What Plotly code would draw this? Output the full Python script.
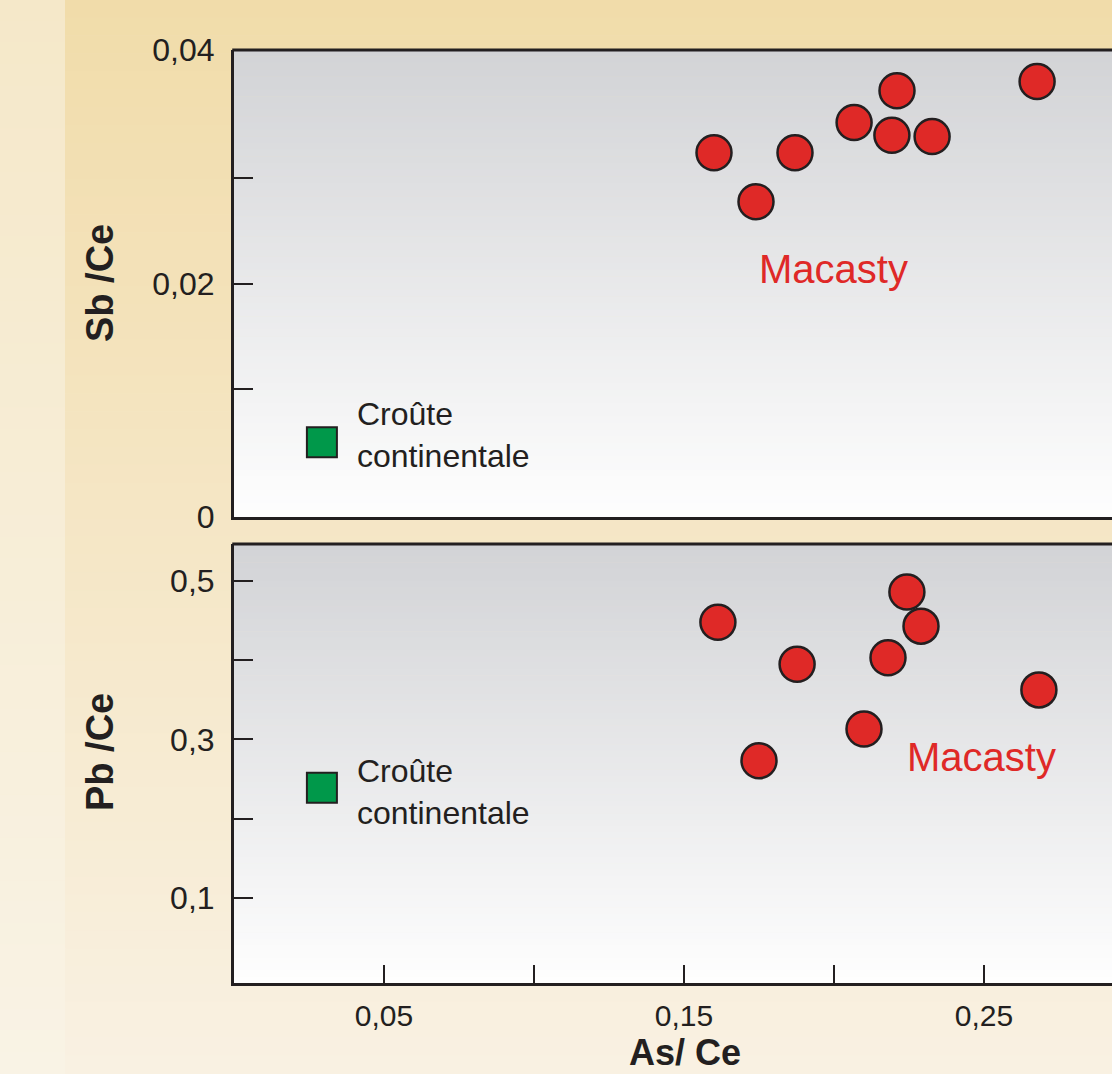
import plotly.graph_objects as go

# ---- data ----
macasty_as_ce_top = [0.160, 0.174, 0.187, 0.2067, 0.221, 0.2193, 0.2327, 0.2677]
macasty_sb_ce = [0.0312, 0.0270, 0.0312, 0.0338, 0.0365, 0.0327, 0.0326, 0.0373]
macasty_as_ce_bot = [0.1613, 0.175, 0.1877, 0.210, 0.218, 0.2243, 0.229, 0.2683]
macasty_pb_ce = [0.448, 0.273, 0.395, 0.313, 0.403, 0.486, 0.443, 0.3625]
crust_as_ce = [0.0293]
crust_sb_ce = [0.0064]
crust_pb_ce = [0.239]

x_tickvals = [0.05, 0.10, 0.15, 0.20, 0.25]
x_ticktext = ["0,05", "", "0,15", "", "0,25"]
y1_tickvals = [0, 0.011, 0.02, 0.029, 0.04]
y1_ticktext = ["0", "", "0,02", "", "0,04"]
y2_tickvals = [0.1, 0.2, 0.3, 0.4, 0.5]
y2_ticktext = ["0,1", "", "0,3", "", "0,5"]

FONT = "Liberation Sans, Arial, Helvetica, sans-serif"
DARK = "#231f20"
RED = "#df2927"
GREEN = "#00984a"

W, H = 1112, 1074
L = 234
top_dom = [(H - 517) / H, (H - 50) / H]
bot_dom = [(H - 983) / H, (H - 544) / H]


def px2paper_x(px):
    return (px - L) / (W - L)


def lerp(c1, c2, t):
    return "rgb(%d,%d,%d)" % tuple(round(a + (b - a) * t) for a, b in zip(c1, c2))


shapes = []


def vgrad(x0, x1, y0, y1, ctop, cbot, n=60):
    # y0 bottom, y1 top in paper coords
    for i in range(n):
        ya = y1 - (y1 - y0) * i / n
        yb = y1 - (y1 - y0) * (i + 1) / n
        shapes.append(dict(type="rect", xref="paper", yref="paper", x0=x0, x1=x1,
                           y0=yb, y1=ya + 0.0005, fillcolor=lerp(ctop, cbot, (i + 0.5) / n),
                           line=dict(width=0), layer="below"))


# page background: left strip and main beige
vgrad(px2paper_x(0), px2paper_x(66), 0, 1, (245, 232, 201), (249, 243, 229), 50)
vgrad(px2paper_x(65), 1.0, 0, 1, (241, 220, 170), (249, 241, 226), 60)
# panel gradients
vgrad(0, 1, top_dom[0], top_dom[1], (210, 211, 214), (254, 254, 254), 70)
vgrad(0, 1, bot_dom[0], bot_dom[1], (210, 211, 214), (254, 254, 254), 70)
# top borders of the panels
for d in (top_dom, bot_dom):
    shapes.append(dict(type="line", xref="paper", yref="paper", x0=-0.002, x1=1,
                       y0=d[1], y1=d[1], line=dict(color=DARK, width=3), layer="above"))

fig = go.Figure()
marker_red = dict(color=RED, size=35, line=dict(color=DARK, width=2.5))
marker_green = dict(color=GREEN, size=30, symbol="square", line=dict(color=DARK, width=2))

fig.add_trace(go.Scatter(x=macasty_as_ce_top, y=macasty_sb_ce, mode="markers",
                         marker=marker_red, xaxis="x", yaxis="y", showlegend=False))
fig.add_trace(go.Scatter(x=crust_as_ce, y=crust_sb_ce, mode="markers",
                         marker=marker_green, xaxis="x", yaxis="y", showlegend=False))
fig.add_trace(go.Scatter(x=macasty_as_ce_bot, y=macasty_pb_ce, mode="markers",
                         marker=marker_red, xaxis="x2", yaxis="y2", showlegend=False))
fig.add_trace(go.Scatter(x=crust_as_ce, y=crust_pb_ce, mode="markers",
                         marker=marker_green, xaxis="x2", yaxis="y2", showlegend=False))

tickfont = dict(family=FONT, size=32, color=DARK)
xtickfont = dict(family=FONT, size=30, color=DARK)
common_x = dict(range=[0, (W - L) / 3000], domain=[0, 1], showgrid=False, zeroline=False,
                showline=True, linecolor=DARK, linewidth=3, automargin=False)
common_y = dict(showgrid=False, zeroline=False, showline=True, linecolor=DARK, linewidth=3,
                ticks="inside", ticklen=19, tickwidth=2, tickcolor=DARK, tickfont=tickfont,
                tickmode="array", ticklabelstandoff=10, automargin=False)

ann_font = dict(family=FONT, size=32, color=DARK)
mac_font = dict(family=FONT, size=40, color=RED)
title_font = dict(family=FONT, size=38, color=DARK)

annotations = [
    dict(text="Macasty", x=0.1997, y=0.0212, xref="x", yref="y", showarrow=False, font=mac_font),
    dict(text="Macasty", x=0.2493, y=0.278, xref="x2", yref="y2", showarrow=False, font=mac_font),
    dict(text="Croûte<br>continentale", x=0.0403, y=0.0070, xref="x", yref="y", showarrow=False,
         xanchor="left", yanchor="middle", align="left", font=ann_font),
    dict(text="Croûte<br>continentale", x=0.0403, y=0.2338, xref="x2", yref="y2", showarrow=False,
         xanchor="left", yanchor="middle", align="left", font=ann_font),
    dict(text="<b>Sb /Ce</b>", x=px2paper_x(100), y=(H - 283) / H, xref="paper", yref="paper",
         xanchor="center", yanchor="middle",
         showarrow=False, textangle=-90, font=title_font),
    dict(text="<b>Pb /Ce</b>", x=px2paper_x(100), y=(H - 752) / H, xref="paper", yref="paper",
         xanchor="center", yanchor="middle",
         showarrow=False, textangle=-90, font=title_font),
    dict(text="<b>As/ Ce</b>", x=px2paper_x(685), y=0, xref="paper", yref="paper",
         xanchor="center", yanchor="bottom", borderpad=0,
         showarrow=False, font=dict(family=FONT, size=36, color=DARK)),
]

fig.update_layout(
    width=W, height=H,
    autosize=False,
    margin=dict(l=L, r=0, t=0, b=0, pad=0, autoexpand=False),
    paper_bgcolor="rgb(244,231,198)",
    plot_bgcolor="rgba(0,0,0,0)",
    xaxis=dict(**common_x, anchor="y", showticklabels=False, ticks=""),
    yaxis=dict(**common_y, domain=top_dom, range=[0, 0.04], anchor="x",
               tickvals=y1_tickvals, ticktext=y1_ticktext),
    xaxis2=dict(**common_x, anchor="y2", ticks="inside", ticklen=18, tickwidth=2, tickcolor=DARK,
                tickfont=xtickfont, tickmode="array", tickvals=x_tickvals, ticktext=x_ticktext,
                ticklabelstandoff=4),
    yaxis2=dict(**common_y, domain=bot_dom, range=[-0.0076, 0.5467], anchor="x2",
                tickvals=y2_tickvals, ticktext=y2_ticktext),
    shapes=shapes,
    annotations=annotations,
    showlegend=False,
)

post = ("document.body.style.margin='0';document.body.style.padding='0';"
        "document.body.style.overflow='hidden';"
        "var gd=document.getElementById('{plot_id}');"
        "Plotly.relayout(gd,{width:%d,height:%d});" % (W, H))

fig.write_html("out.html", post_script=post, config={"responsive": False, "displayModeBar": False})
